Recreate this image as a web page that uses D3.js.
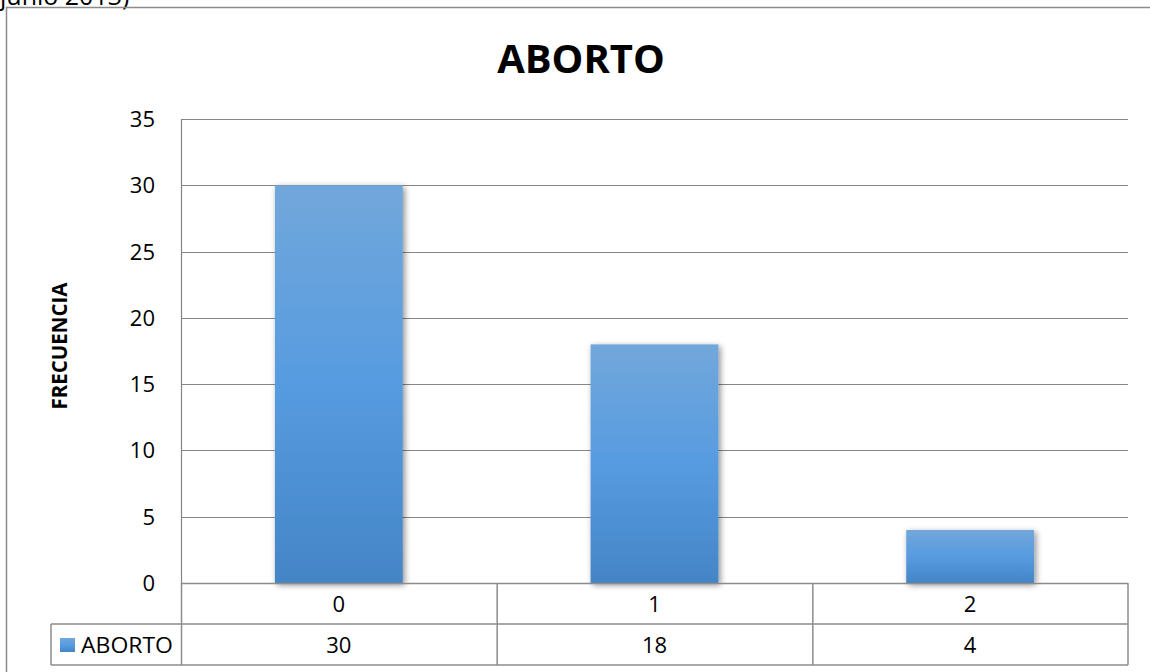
<!DOCTYPE html>
<html><head><meta charset="utf-8">
<script src="https://cdn.jsdelivr.net/npm/d3@7"></script>
<style>body{margin:0;background:#fff}svg{display:block}text{font-family:"Open Sans","Noto Sans",sans-serif}</style>
</head><body>
<svg id="c" width="1150" height="672"></svg>
<script>
const categories = ["0", "1", "2"];
const values = [30, 18, 4];
const seriesName = "ABORTO";
const yTicks = [0, 5, 10, 15, 20, 25, 30, 35];
const title = "ABORTO";
const yTitle = "FRECUENCIA";
const topNote = "junio 2013)";

const svg = d3.select("#c");
const L = 181, R = 1128, T = 119, B = 583;
const rowH = 41;

const defs = svg.append("defs");
const g = defs.append("linearGradient").attr("id","bg").attr("x1",0).attr("y1",0).attr("x2",0).attr("y2",1);
g.append("stop").attr("offset","0%").attr("stop-color","#72a7db");
g.append("stop").attr("offset","50%").attr("stop-color","#579be0");
g.append("stop").attr("offset","100%").attr("stop-color","#4485c6");
const f = defs.append("filter").attr("id","sh").attr("x","-20%").attr("y","-20%").attr("width","140%").attr("height","140%");
f.append("feGaussianBlur").attr("in","SourceAlpha").attr("stdDeviation",3);
f.append("feOffset").attr("dx",2).attr("dy",2).attr("result","ob");
f.append("feComponentTransfer").append("feFuncA").attr("type","linear").attr("slope",0.45);
const m = f.append("feMerge"); m.append("feMergeNode"); m.append("feMergeNode").attr("in","SourceGraphic");

// top partial note and outer frame
svg.append("text").attr("x",0).attr("y",5).attr("font-size",25).attr("font-family","Open Sans, sans-serif").text(topNote);
svg.append("path").attr("d","M6.5,672 V7.5 H1150").attr("fill","none").attr("stroke","#8c8c8c").attr("stroke-width",1.5);

const x = d3.scaleBand().domain(categories).range([L, R]).paddingInner(0).paddingOuter(0);
const y = d3.scaleLinear().domain([0, 35]).range([B, T]);

// gridlines
svg.append("g").selectAll("line").data(yTicks).join("line")
  .attr("x1",L).attr("x2",R).attr("y1",d=>Math.round(y(d))+0.5).attr("y2",d=>Math.round(y(d))+0.5)
  .attr("stroke","#868686").attr("stroke-width",1.2);
// y axis line
svg.append("line").attr("x1",L+0.5).attr("x2",L+0.5).attr("y1",T).attr("y2",B).attr("stroke","#868686").attr("stroke-width",1.2);

// tick labels
svg.append("g").selectAll("text").data(yTicks).join("text")
  .attr("x",155).attr("y",d=>y(d)+8).attr("text-anchor","end").attr("font-size",22).attr("fill","#000").text(d=>d);

// bars
const bw = x.bandwidth()*0.405;
svg.append("g").selectAll("rect").data(values).join("rect")
  .attr("x",(d,i)=>x(categories[i])+x.bandwidth()/2-bw/2).attr("width",bw)
  .attr("y",d=>y(d)).attr("height",d=>B-y(d))
  .attr("fill","url(#bg)").attr("filter","url(#sh)");

// data table
const tg = svg.append("g").attr("fill","none").attr("stroke","#8c8c8c").attr("stroke-width",1.5);
tg.append("line").attr("x1",L).attr("x2",R).attr("y1",B+rowH).attr("y2",B+rowH);
tg.append("line").attr("x1",51).attr("x2",R).attr("y1",B+2*rowH).attr("y2",B+2*rowH);
tg.append("line").attr("x1",51).attr("x2",L).attr("y1",B+rowH).attr("y2",B+rowH);
tg.append("line").attr("x1",51).attr("x2",51).attr("y1",B+rowH).attr("y2",B+2*rowH);
categories.forEach((c,i)=>{
  tg.append("line").attr("x1",x(c)+0.5).attr("x2",x(c)+0.5).attr("y1",B).attr("y2",B+2*rowH);
});
tg.append("line").attr("x1",R).attr("x2",R).attr("y1",B).attr("y2",B+2*rowH);
svg.append("line").attr("x1",L).attr("x2",R).attr("y1",B+0.5).attr("y2",B+0.5).attr("stroke","#8c8c8c").attr("stroke-width",1.5);

svg.append("g").selectAll("text").data(categories).join("text")
  .attr("x",d=>x(d)+x.bandwidth()/2).attr("y",B+29).attr("text-anchor","middle").attr("font-size",22).text(d=>d);
svg.append("g").selectAll("text").data(values).join("text")
  .attr("x",(d,i)=>x(categories[i])+x.bandwidth()/2).attr("y",B+rowH+29).attr("text-anchor","middle").attr("font-size",22).text(d=>d);

// legend key
svg.append("rect").attr("x",60).attr("y",638).attr("width",15).attr("height",14).attr("fill","url(#bg)");
svg.append("text").attr("x",81).attr("y",653).attr("font-size",22).attr("textLength",92).attr("lengthAdjust","spacingAndGlyphs").text(seriesName);

// titles
svg.append("text").attr("x",581).attr("y",73).attr("text-anchor","middle").attr("font-size",40).attr("font-weight","bold").text(title);
svg.append("text").attr("transform","translate(67,346) rotate(-90)").attr("text-anchor","middle").attr("font-size",20.5).attr("font-weight","bold").text(yTitle);
</script>
</body></html>
